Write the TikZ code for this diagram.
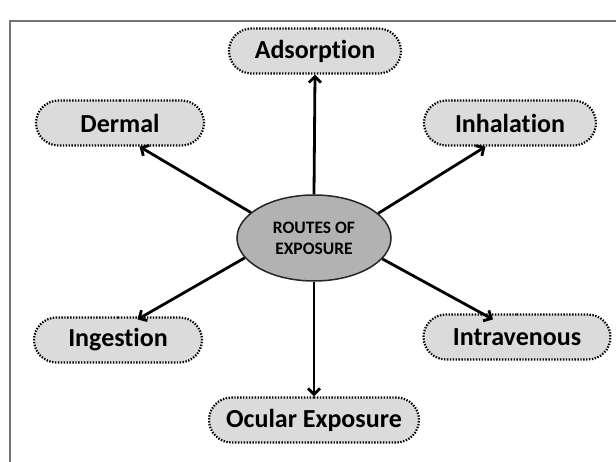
\documentclass[tikz,border=0pt]{standalone}
\usepackage{fontspec}
\setmainfont{Carlito}[RawFeature={-liga}]
\usetikzlibrary{shapes.misc,shapes.geometric,arrows.meta}
\begin{document}
\begin{tikzpicture}[x=1pt,y=-1pt,
  pill/.style={rounded rectangle, draw=black, fill=black!14, line width=2.2pt,
    dash pattern=on 1.4pt off 1.5pt, inner sep=0pt, minimum height=45pt,
    font=\bfseries\fontsize{26}{28}\selectfont},
  hub/.style={ellipse, draw=black!85, fill=black!30, line width=1.5pt, inner sep=0pt,
    minimum width=154pt, minimum height=86pt, align=center,
    font=\bfseries\fontsize{17.5}{21}\selectfont},
  link/.style={line width=2.8pt, -{Straight Barb[length=6pt,width=12pt,line width=2.8pt]}},
  frame/.style={draw=black!55, line width=1.6pt}]
\useasboundingbox (0,0) rectangle (616,462);
\draw[frame] (10,462) -- (10,21) -- (616,21);
\node[hub] (c) at (314,238) {ROUTES OF\\EXPOSURE};
\node[pill, minimum width=172pt] (ads) at (315,51) {Adsorption};
\node[pill, minimum width=168pt] (der) at (120,123) {Dermal};
\node[pill, minimum width=172pt] (inh) at (510,123) {Inhalation};
\node[pill, minimum width=168pt] (ing) at (118,340) {Ingestion};
\node[pill, minimum width=187pt] (intra) at (517,337) {Intravenous};
\node[pill, minimum width=210pt] (ocu) at (314,420) {Ocular Exposure};
\draw[link] (c.north) -- (ads.south);
\draw[link] (c.158) -- ([xshift=-42pt]der.south east);
\draw[link] (c.21) -- ([xshift=39pt]inh.south west);
\draw[link] (c.196) -- ([xshift=-42pt,yshift=-3pt]ing.north east);
\draw[link] (c.343) -- ([xshift=47pt,yshift=-6pt]intra.north west);
\draw[link] (c.south) -- (ocu.north);
\end{tikzpicture}
\end{document}
